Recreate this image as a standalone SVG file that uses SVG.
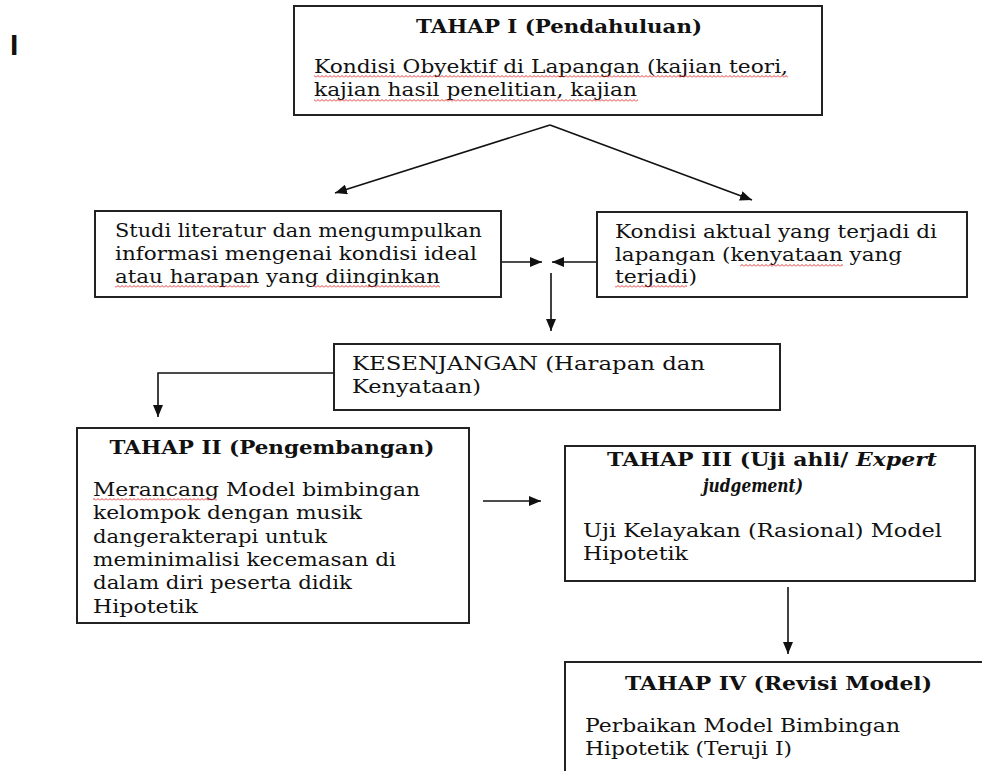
<svg xmlns="http://www.w3.org/2000/svg" width="982" height="771" viewBox="0 0 982 771">
<style>
.box{fill:#fff;stroke:#222;stroke-width:2}
.t{font-family:"DejaVu Serif","Liberation Serif",serif;font-size:19px;fill:#111}
.b{font-weight:bold}
.c{fill:none;stroke:#111;stroke-width:1.6}
.w{fill:url(#wave)}
</style>
<defs>
<marker id="ah" viewBox="0 0 12 10" refX="12" refY="5" markerWidth="12" markerHeight="10" markerUnits="userSpaceOnUse" orient="auto">
<path d="M0,0 L12,5 L0,10 z" fill="#111"/>
</marker>
<pattern id="wave" patternUnits="userSpaceOnUse" width="4" height="3">
<path d="M0,2.5 L2,0.5 L4,2.5" fill="none" stroke="#e02020" stroke-width="0.9"/>
</pattern>
</defs>
<rect width="982" height="771" fill="#fff"/>
<text x="10" y="55" font-family="Liberation Sans, Arial, sans-serif" font-size="30" font-weight="bold" fill="#111">I</text>

<g id="connectors">
<line class="c" x1="550" y1="125" x2="335" y2="193" marker-end="url(#ah)"/>
<line class="c" x1="550" y1="125" x2="752" y2="200" marker-end="url(#ah)"/>
<line class="c" x1="501" y1="262" x2="542" y2="262" marker-end="url(#ah)"/>
<line class="c" x1="597" y1="262" x2="552" y2="262" marker-end="url(#ah)"/>
<line class="c" x1="551" y1="273" x2="551" y2="331" marker-end="url(#ah)"/>
<polyline class="c" points="334,373 158,373 158,417" marker-end="url(#ah)"/>
<line class="c" x1="483" y1="501" x2="541" y2="501" marker-end="url(#ah)"/>
<line class="c" x1="788" y1="587" x2="788" y2="654" marker-end="url(#ah)"/>
</g>

<g id="tahap1">
<rect class="box" x="294" y="6" width="528" height="109"/>
<text class="t b" x="559" y="33" text-anchor="middle" textLength="286" lengthAdjust="spacingAndGlyphs">TAHAP I (Pendahuluan)</text>
<text class="t" x="314" y="73" textLength="474" lengthAdjust="spacingAndGlyphs">Kondisi Obyektif di Lapangan (kajian teori,</text>
<text class="t" x="314" y="96" textLength="323" lengthAdjust="spacingAndGlyphs">kajian hasil penelitian, kajian</text>
<rect class="w" x="314" y="75" width="474" height="3"/>
<rect class="w" x="314" y="99" width="324" height="3"/>
</g>

<g id="studi">
<rect class="box" x="95" y="211" width="406" height="86"/>
<text class="t" x="115" y="237" textLength="367" lengthAdjust="spacingAndGlyphs">Studi literatur dan mengumpulkan</text>
<text class="t" x="115" y="260" textLength="362" lengthAdjust="spacingAndGlyphs">informasi mengenai kondisi ideal</text>
<text class="t" x="115" y="283" textLength="325" lengthAdjust="spacingAndGlyphs">atau harapan yang diinginkan</text>
<rect class="w" x="115" y="285" width="135" height="3"/>
<rect class="w" x="313" y="285" width="127" height="3"/>
</g>

<g id="kondisi">
<rect class="box" x="597" y="212" width="370" height="85"/>
<text class="t" x="615" y="238" textLength="322" lengthAdjust="spacingAndGlyphs">Kondisi aktual yang terjadi di</text>
<text class="t" x="615" y="261" textLength="287" lengthAdjust="spacingAndGlyphs">lapangan (kenyataan yang</text>
<text class="t" x="615" y="283" textLength="82" lengthAdjust="spacingAndGlyphs">terjadi)</text>
<rect class="w" x="740" y="264" width="103" height="3"/>
<rect class="w" x="615" y="285" width="72" height="3"/>
</g>

<g id="kesenjangan">
<rect class="box" x="334" y="344" width="446" height="66"/>
<text class="t" x="352" y="370" textLength="353" lengthAdjust="spacingAndGlyphs">KESENJANGAN (Harapan dan</text>
<text class="t" x="352" y="393" textLength="129" lengthAdjust="spacingAndGlyphs">Kenyataan)</text>
</g>

<g id="tahap2">
<rect class="box" x="77" y="428" width="392" height="195"/>
<text class="t b" x="272" y="454" text-anchor="middle" textLength="325" lengthAdjust="spacingAndGlyphs">TAHAP II (Pengembangan)</text>
<text class="t" x="93" y="496" textLength="327" lengthAdjust="spacingAndGlyphs">Merancang Model bimbingan</text>
<text class="t" x="93" y="519" textLength="269" lengthAdjust="spacingAndGlyphs">kelompok dengan musik</text>
<text class="t" x="93" y="543" textLength="234" lengthAdjust="spacingAndGlyphs">dangerakterapi untuk</text>
<text class="t" x="93" y="566" textLength="303" lengthAdjust="spacingAndGlyphs">meminimalisi kecemasan di</text>
<text class="t" x="93" y="589" textLength="259" lengthAdjust="spacingAndGlyphs">dalam diri peserta didik</text>
<text class="t" x="93" y="613" textLength="105" lengthAdjust="spacingAndGlyphs">Hipotetik</text>
<rect class="w" x="93" y="498" width="124" height="3"/>
</g>

<g id="tahap3">
<rect class="box" x="565" y="446" width="410" height="135"/>
<text class="t b" x="607" y="466" textLength="330" lengthAdjust="spacingAndGlyphs">TAHAP III (Uji ahli/ <tspan font-style="italic">Expert</tspan></text>
<text class="t b" x="703" y="492" font-size="18" font-style="italic" textLength="100" lengthAdjust="spacingAndGlyphs">judgement)</text>
<text class="t" x="583" y="537" textLength="359" lengthAdjust="spacingAndGlyphs">Uji Kelayakan (Rasional) Model</text>
<text class="t" x="583" y="560" textLength="105" lengthAdjust="spacingAndGlyphs">Hipotetik</text>
</g>

<g id="tahap4">
<rect class="box" x="565" y="662" width="430" height="130"/>
<text class="t b" x="625" y="690" textLength="307" lengthAdjust="spacingAndGlyphs">TAHAP IV (Revisi Model)</text>
<text class="t" x="585" y="732" textLength="315" lengthAdjust="spacingAndGlyphs">Perbaikan Model Bimbingan</text>
<text class="t" x="585" y="755" textLength="207" lengthAdjust="spacingAndGlyphs">Hipotetik (Teruji I)</text>
</g>
</svg>
